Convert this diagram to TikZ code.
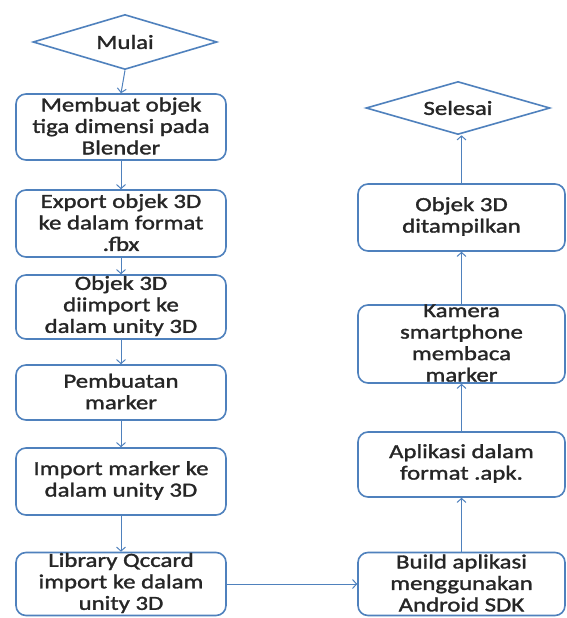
\documentclass[tikz,border=0pt]{standalone}
\usepackage{fontspec}
\setmainfont{Carlito}[FakeStretch=1.24,FakeBold=1.5]
\usetikzlibrary{shapes.geometric,arrows.meta}
\definecolor{lblue}{RGB}{79,129,189}
\begin{document}
\begin{tikzpicture}[x=1pt,y=-1pt,
  box/.style={draw=lblue,line width=1.6pt,rounded corners=10pt,inner sep=0pt},
  dia/.style={draw=lblue,line width=1.6pt,diamond,inner sep=0pt},
  txt/.style={align=center,inner sep=0pt,text=black!85,font=\fontsize{20}{21.5}\selectfont},
  conn/.style={draw=lblue,line width=1pt,-{Straight Barb[length=4pt,width=9pt]}}]
\fill[white] (0,0) rectangle (566,618);
\useasboundingbox (0,0) rectangle (566,618);
% left column
\node[dia,minimum width=184pt,minimum height=55pt] (mulai) at (125,42) {};
\node[txt] (tm) at (mulai) {Mulai};
\node[box,minimum width=210pt,minimum height=66pt] (b1) at (121,127) {};
\node[txt] (t1) at ([yshift=1pt]b1.center) {Membuat objek\\tiga dimensi pada\\Blender};
\node[box,minimum width=210pt,minimum height=67pt] (b2) at (121,223.5) {};
\node[txt] (t2) at ([yshift=1pt]b2.center) {Export objek 3D\\ke dalam format\\.fbx};
\node[box,minimum width=210pt,minimum height=64pt] (b3) at (121,307) {};
\node[txt] (t3) at ([yshift=1pt]b3.center) {Objek 3D\\diimport ke\\dalam unity 3D};
\node[box,minimum width=210pt,minimum height=55pt] (b4) at (121,392.5) {};
\node[txt] (t4) at ([yshift=1pt]b4.center) {Pembuatan\\marker};
\node[box,minimum width=210pt,minimum height=67pt] (b5) at (121,481.5) {};
\node[txt] (t5) at ([yshift=1pt]b5.center) {Import marker ke\\dalam unity 3D};
\node[box,minimum width=210pt,minimum height=63pt] (b6) at (121,584) {};
\node[txt] (t6) at ([yshift=1pt]b6.center) {Library Qccard\\import ke dalam\\unity 3D};
% right column
\node[dia,minimum width=184pt,minimum height=53pt] (selesai) at (458,108) {};
\node[txt] (ts) at (selesai) {Selesai};
\node[box,minimum width=207pt,minimum height=67pt] (r1) at (461.5,217.5) {};
\node[txt] (tr1) at ([yshift=1pt]r1.center) {Objek 3D\\ditampilkan};
\node[box,minimum width=207pt,minimum height=78pt] (r2) at (461.5,344) {};
\node[txt] (tr2) at ([yshift=1pt]r2.center) {Kamera\\smartphone\\membaca\\marker};
\node[box,minimum width=207pt,minimum height=65pt] (r3) at (461.5,464.5) {};
\node[txt] (tr3) at ([yshift=1pt]r3.center) {Aplikasi dalam\\format .apk.};
\node[box,minimum width=207pt,minimum height=63pt] (r4) at (461.5,584) {};
\node[txt] (tr4) at ([yshift=1pt]r4.center) {Build aplikasi\\menggunakan\\Android SDK};
% connectors
\draw[conn] (mulai.south) -- (b1.north);
\draw[conn] (b1) -- (b2);
\draw[conn] (b2) -- (b3);
\draw[conn] (b3) -- (b4);
\draw[conn] (b4) -- (b5);
\draw[conn] (b5) -- (b6);
\draw[conn] (b6) -- (r4);
\draw[conn] (r4) -- (r3);
\draw[conn] (r3) -- (r2);
\draw[conn] (r2) -- (r1);
\draw[conn] (r1.north) -- (r1.north |- selesai.south);
\end{tikzpicture}
\end{document}
